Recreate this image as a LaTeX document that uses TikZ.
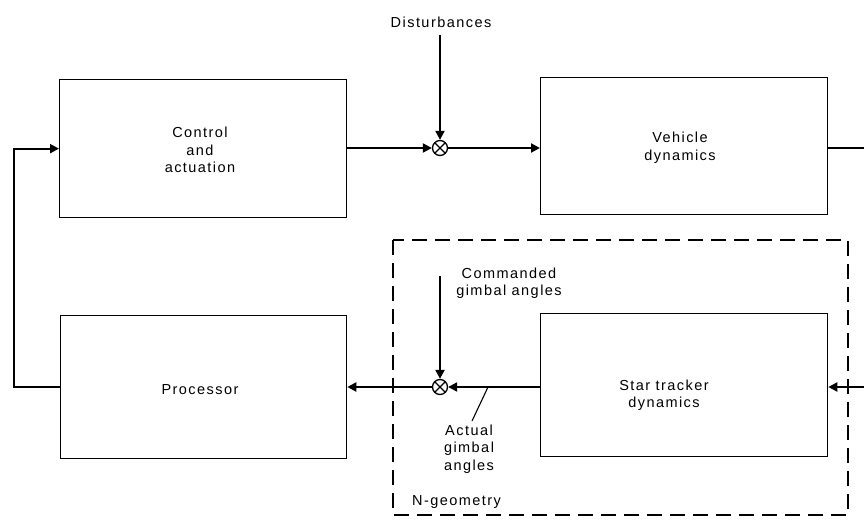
\documentclass[tikz,border=0pt]{standalone}
\usepackage{fontspec}
\setmainfont{Liberation Sans}[LetterSpace=10]
\usetikzlibrary{arrows.meta}
\begin{document}
\begin{tikzpicture}[x=1pt,y=-1pt,
  txt/.style={font=\fontsize{14.5}{17.5}\selectfont, align=center, inner sep=0pt},
  blk/.style={draw, line width=1.3pt, anchor=north west, inner sep=0pt},
  conn/.style={line width=2.1pt},
  arr/.style={conn, -{Triangle[length=9pt,width=9pt]}},
  lead/.style={line width=1.1pt},
  grp/.style={line width=1.3pt, dash pattern=on 15pt off 8pt},
  sumj/.style={circle, draw, line width=1.3pt, minimum size=15pt, inner sep=0pt,
    path picture={\draw[line width=1.1pt]
      (path picture bounding box.north west) -- (path picture bounding box.south east)
      (path picture bounding box.north east) -- (path picture bounding box.south west);}}
]
\useasboundingbox (0,0) rectangle (864,519);

% group box
\draw[grp] (393,240) rectangle (848,515);
\node[txt, anchor=west] (ngeo) at (412,502) {N-geometry};

% blocks
\node[blk, minimum width=287pt, minimum height=138pt] (ctrl) at (59,79) {};
\node[blk, minimum width=286pt, minimum height=143pt] (proc) at (60,315) {};
\node[blk, minimum width=287pt, minimum height=137pt] (veh) at (540,77) {};
\node[blk, minimum width=287pt, minimum height=143pt] (star) at (540,313) {};

\node[txt] (ctrlt) at (200,150) {Control\\and\\actuation};
\node[txt] (proct) at (200,390) {Processor};
\node[txt] (veht) at (680,148) {Vehicle\\dynamics};
\node[txt] (start) at (664,395) {Star tracker\\dynamics};

% summing junctions
\node[sumj] (sum1) at (440,148) {};
\node[sumj] (sum2) at (440,387) {};

% labels
\node[txt] (dist) at (441,22) {Disturbances};
\node[txt] (cmd) at (509,283) {Commanded\\gimbal angles};
\node[txt] (act) at (469,449) {Actual\\gimbal\\angles};

% coordinates
\coordinate (d0) at (440,35);
\coordinate (c0) at (440,276);
\coordinate (out) at (864,148);
\coordinate (in) at (864,387);
\coordinate (lp) at (488,387);
\coordinate (lt) at (472,421);

% connectors
\draw[arr] (ctrl.east |- sum1) -- (sum1);
\draw[arr] (d0) -- (sum1);
\draw[arr] (sum1) -- (sum1 -| veh.west);
\draw[conn] (out -| veh.east) -- (out);
\draw[arr] (in) -- (in -| star.east);
\draw[arr] (sum2 -| star.west) -- (sum2);
\draw[arr] (c0) -- (sum2);
\draw[arr] (sum2) -- (sum2 -| proc.east);
\draw[arr] (proc.west) -- ++(-46,0) |- (ctrl.west);
\draw[lead] (lt) -- (lp);
\end{tikzpicture}
\end{document}
